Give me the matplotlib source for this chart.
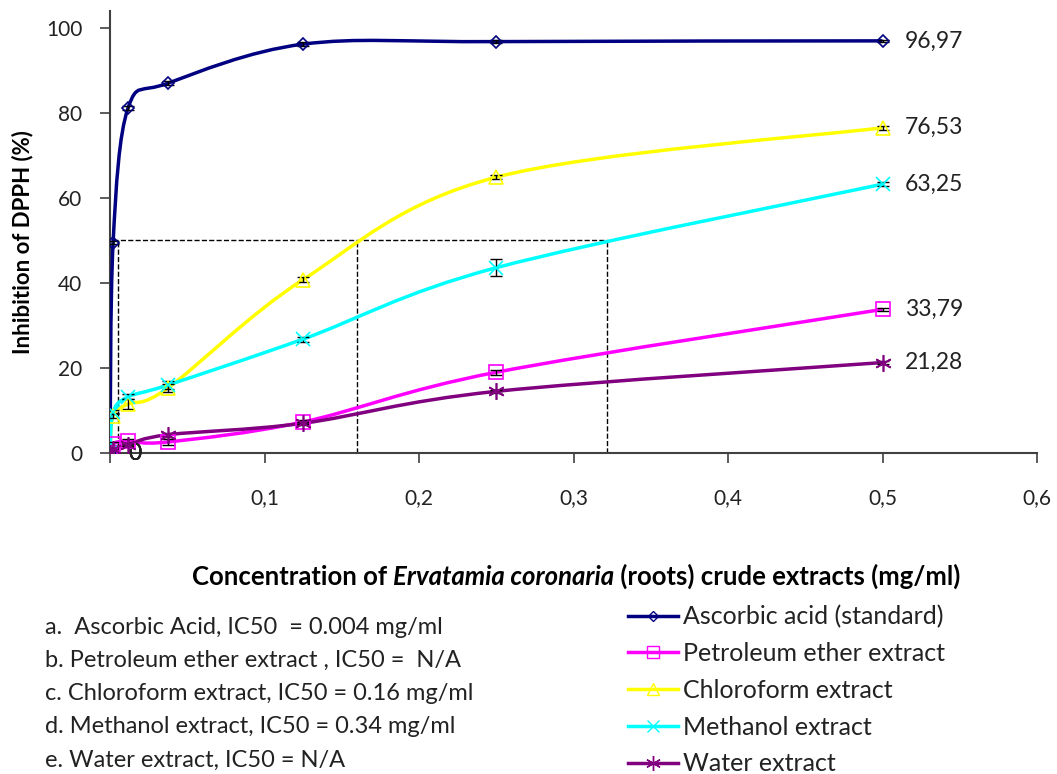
import numpy as np
import matplotlib.pyplot as plt
from matplotlib.path import Path
from matplotlib.patches import PathPatch
from matplotlib.lines import Line2D

plt.rcParams['font.family'] = ['Lato', 'DejaVu Sans']

# Data
conc = [0, 0.002, 0.0117, 0.0375, 0.125, 0.25, 0.5]
ascorbic = [0, 49.5, 81.2, 87.0, 96.2, 96.8, 96.97]
petroleum = [0, 2.2, 2.8, 2.6, 7.3, 19.0, 33.79]
chloroform = [0, 8.8, 11.5, 15.3, 40.8, 64.9, 76.53]
methanol = [0, 9.6, 13.2, 16.0, 26.8, 43.6, 63.25]
water = [0, 1.0, 2.0, 4.3, 7.0, 14.5, 21.28]

err_ascorbic = [0, 0.3, 0.4, 0.5, 0.4, 0.3, 0.3]
err_petroleum = [0, 0.4, 0.4, 0.8, 0.5, 0.6, 0.4]
err_chloroform = [0, 0.6, 1.2, 1.0, 0.5, 0.4, 0.5]
err_methanol = [0, 0.5, 0.6, 1.0, 0.6, 2.0, 0.4]
err_water = [0, 0.3, 0.4, 0.5, 0.4, 0.3, 0.3]

series_names = ['Ascorbic acid (standard)', 'Petroleum ether extract',
                'Chloroform extract', 'Methanol extract', 'Water extract']
series_values = [ascorbic, petroleum, chloroform, methanol, water]
series_errors = [err_ascorbic, err_petroleum, err_chloroform, err_methanol, err_water]
colors = ['#000080', '#FF00FF', '#FFFF00', '#00FFFF', '#800080']
markers = ['D', 's', '^', 'x', (6, 2, 0)]
marker_sizes = [6, 10, 10, 10, 12]

ic50_x = [0.005, 0.16, 0.322]
ic50_y = 50

notes = ['a.  Ascorbic Acid, IC50  = 0.004 mg/ml',
         'b. Petroleum ether extract , IC50 =  N/A',
         'c. Chloroform extract, IC50 = 0.16 mg/ml',
         'd. Methanol extract, IC50 = 0.34 mg/ml',
         'e. Water extract, IC50 = N/A']

xticks = [0, 0.1, 0.2, 0.3, 0.4, 0.5, 0.6]
xtick_labels = ['', '0,1', '0,2', '0,3', '0,4', '0,5', '0,6']
yticks = [0, 20, 40, 60, 80, 100]


def smooth_path(xs, ys):
    # Excel style smoothed line: bezier segments through the points
    pts = list(zip(xs, ys))
    verts = [pts[0]]
    codes = [Path.MOVETO]
    n = len(pts)
    for i in range(n - 1):
        p0 = pts[i - 1] if i > 0 else pts[i]
        p1 = pts[i]
        p2 = pts[i + 1]
        p3 = pts[i + 2] if i + 2 < n else pts[i + 1]
        c1 = (p1[0] + (p2[0] - p0[0]) / 6, p1[1] + (p2[1] - p0[1]) / 6)
        c2 = (p2[0] - (p3[0] - p1[0]) / 6, p2[1] - (p3[1] - p1[1]) / 6)
        verts += [c1, c2, p2]
        codes += [Path.CURVE4] * 3
    return Path(verts, codes)


fig = plt.figure(figsize=(10.57, 7.74), dpi=100)
ax = fig.add_axes([110 / 1057, 321 / 774, 927 / 1057, 442 / 774])

for name, vals, errs, c, m, ms in zip(series_names, series_values, series_errors,
                                      colors, markers, marker_sizes):
    ax.add_patch(PathPatch(smooth_path(conc, vals), facecolor='none',
                           edgecolor=c, lw=2.5, zorder=3))
    ax.errorbar(conc, vals, yerr=errs, fmt='none', ecolor='black',
                elinewidth=1, capsize=4, zorder=4)
    ax.plot(conc, vals, ls='none', marker=m, ms=ms, mfc='none', mec=c,
            mew=1.2, zorder=5)
    ax.annotate(f'{vals[-1]:.2f}'.replace('.', ','), (conc[-1], vals[-1]),
                xytext=(16, 0), textcoords='offset points', va='center',
                ha='left', fontsize=16.5, color='#222222')
    ax.annotate(f'{vals[0]:g}', (conc[0], vals[0]), xytext=(13, 0),
                textcoords='offset points', va='center', ha='left',
                fontsize=16.5, color='#222222')

# IC50 guide lines
ax.plot([conc[1], max(ic50_x)], [ic50_y, ic50_y], ls='--', color='black', lw=1, zorder=2)
ax.vlines(ic50_x, 0, ic50_y, linestyles='--', colors='black', lw=1, zorder=2)

ax.set_xlim(0, 0.6)
ax.set_ylim(0, 104)
ax.set_xticks(xticks)
ax.set_xticklabels(xtick_labels)
ax.set_yticks(yticks)
ax.tick_params(labelsize=15, length=7, width=1.2, direction='out',
               colors='#404040', labelcolor='#222222')
ax.tick_params(axis='x', pad=18)
ax.tick_params(axis='y', pad=13)
for s in ['top', 'right']:
    ax.spines[s].set_visible(False)
for s in ['left', 'bottom']:
    ax.spines[s].set_linewidth(1.5)
    ax.spines[s].set_color('#404040')

fig.text(23 / 1057, 1 - 242 / 774, 'Inhibition of DPPH (%)', rotation=90,
         ha='center', va='center', fontsize=16, fontweight='bold')

# x label with italic species name
t1 = fig.text(192 / 1057, 1 - 577 / 774, 'Concentration of ', fontsize=18.5,
              fontweight='bold', va='center', ha='left')
t2 = ax.annotate('Ervatamia coronaria', xy=(1, 0), xycoords=t1, va='bottom',
                 ha='left', fontsize=18.5, fontweight='bold', style='italic')
ax.annotate(' (roots) crude extracts (mg/ml)', xy=(1, 0), xycoords=t2,
            va='bottom', ha='left', fontsize=18.5, fontweight='bold')

for i, line in enumerate(notes):
    fig.text(45 / 1057, 1 - (627 + 33.25 * i) / 774, line, fontsize=17,
             va='center', ha='left', color='#222222')

handles = [Line2D([], [], color=c, lw=2.5, marker=m, ms=ms * 0.9, mfc='none', mec=c)
           for c, m, ms in zip(colors, markers, marker_sizes)]
fig.legend(handles, series_names, loc='upper left',
           bbox_to_anchor=(628 / 1057, 1 - 605 / 774), frameon=False,
           fontsize=18, handlelength=2.0, handletextpad=0.2, labelspacing=0.55,
           borderpad=0, borderaxespad=0, labelcolor='#222222')

fig.savefig('out.png', dpi=100)
